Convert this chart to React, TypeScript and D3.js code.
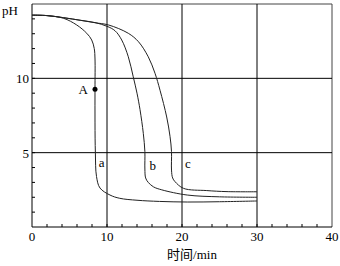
import React from "react";
import * as d3 from "d3";

const curveNames = ["a", "b", "c"];
const aX = [0, 2, 4.2, 5.96, 7.3, 7.96, 8.3, 8.4, 8.4, 8.4, 8.45, 8.6, 9.07, 10.4, 11.7, 14, 17, 20.7, 25, 30];
const aY = [14.25, 14.22, 14.04, 13.59, 13.03, 12.58, 12.0, 11.3, 9.3, 7, 5.0, 3.4, 2.62, 2.15, 1.93, 1.8, 1.72, 1.68, 1.7, 1.75];
const bX = [0, 2, 4.2, 6.5, 8.4, 10.0, 11.07, 11.96, 12.84, 13.5, 14.0, 14.4, 14.84, 15.05, 15.05, 15.15, 15.5, 16.2, 17.3, 20.7, 25, 30];
const bY = [14.25, 14.22, 14.08, 13.9, 13.75, 13.5, 13.2, 12.58, 11.45, 10.1, 9.0, 7.9, 6.3, 5.07, 3.9, 3.3, 3.0, 2.7, 2.5, 2.15, 2.03, 2.0];
const cX = [0, 2, 4.2, 6.5, 8.4, 10.2, 12.84, 14.2, 15.5, 16.4, 17.07, 17.96, 18.4, 18.6, 18.6, 18.75, 19.07, 20.2, 23.3, 26, 30];
const cY = [14.25, 14.22, 14.08, 13.9, 13.74, 13.59, 13.03, 12.46, 11.45, 10.34, 9.2, 7.4, 6.1, 5.07, 3.83, 3.3, 3.05, 2.6, 2.45, 2.38, 2.37];
const pointA = { x: 8.4, y: 9.26, label: "A" };
const xTickLabels = [0, 10, 20, 30, 40];
const yTickLabels = [5, 10];
const xGrid = [10, 20, 30];
const yGrid = [5, 10];
const labelPos = [
  { x: 9.3, y: 4.05 },
  { x: 16.1, y: 3.85 },
  { x: 20.8, y: 4.0 },
];

const FONT = "'Liberation Serif', 'Noto Sans CJK SC', serif";

export default function App() {
  const x = d3.scaleLinear().domain([0, 40]).range([32, 332]);
  const y = d3.scaleLinear().domain([0, 15]).range([227, 4]);
  const line = d3
    .line<[number, number]>()
    .x((d) => x(d[0]))
    .y((d) => y(d[1]))
    .curve(d3.curveCatmullRom.alpha(0.5));
  const series = [
    aX.map((v, i) => [v, aY[i]] as [number, number]),
    bX.map((v, i) => [v, bY[i]] as [number, number]),
    cX.map((v, i) => [v, cY[i]] as [number, number]),
  ];
  const xMinor = d3.range(2, 40, 2);
  const yMinor = d3.range(1, 15, 1);
  return (
    <svg
      width={340}
      height={266}
      style={{ position: "absolute", left: 0, top: 0, background: "#fff" }}
      fontFamily={FONT}
    >
      <line x1={x(0)} x2={x(40)} y1={y(15)} y2={y(15)} stroke="#444" strokeWidth={1} />
      <line x1={x(40)} x2={x(40)} y1={y(15)} y2={y(0)} stroke="#444" strokeWidth={1} />
      {xGrid.map((g) => (
        <line key={"xg" + g} x1={x(g)} x2={x(g)} y1={y(15)} y2={y(0)} stroke="#000" strokeWidth={1} />
      ))}
      {yGrid.map((g) => (
        <line key={"yg" + g} x1={x(0)} x2={x(40)} y1={y(g)} y2={y(g)} stroke="#000" strokeWidth={1} />
      ))}
      <line x1={x(0)} x2={x(0)} y1={y(15)} y2={y(0)} stroke="#000" strokeWidth={1} />
      <line x1={x(0)} x2={x(40)} y1={y(0)} y2={y(0)} stroke="#000" strokeWidth={1} />
      {xMinor.map((t) => (
        <line key={"xt" + t} x1={x(t)} x2={x(t)} y1={y(0)} y2={y(0) - 3} stroke="#000" strokeWidth={1} />
      ))}
      {yMinor.map((t) => (
        <line key={"yt" + t} x1={x(0)} x2={x(0) + 3} y1={y(t)} y2={y(t)} stroke="#000" strokeWidth={1} />
      ))}
      {xTickLabels.map((t) => (
        <text key={"xl" + t} x={x(t)} y={y(0) + 14} textAnchor="middle" fontSize={13} fill="#000">
          {t}
        </text>
      ))}
      {yTickLabels.map((t) => (
        <text key={"yl" + t} x={x(0) - 3} y={y(t) + 5} textAnchor="end" fontSize={13} fill="#000">
          {t}
        </text>
      ))}
      <text x={2} y={15} fontSize={13} fill="#000">pH</text>
      <text x={192} y={259} textAnchor="middle" fontSize={13} fill="#000">时间/min</text>
      {series.map((s, i) => (
        <path key={"c" + i} d={line(s) || ""} fill="none" stroke="#222" strokeWidth={1} />
      ))}
      {curveNames.map((n, i) => (
        <text key={"n" + n} x={x(labelPos[i].x)} y={y(labelPos[i].y)} fontSize={13} fill="#000" textAnchor="middle">
          {n}
        </text>
      ))}
      <circle cx={x(pointA.x)} cy={y(pointA.y)} r={2.5} fill="#000" />
      <text x={x(pointA.x) - 7} y={y(pointA.y) + 5} textAnchor="end" fontSize={13} fill="#000">
        {pointA.label}
      </text>
    </svg>
  );
}
